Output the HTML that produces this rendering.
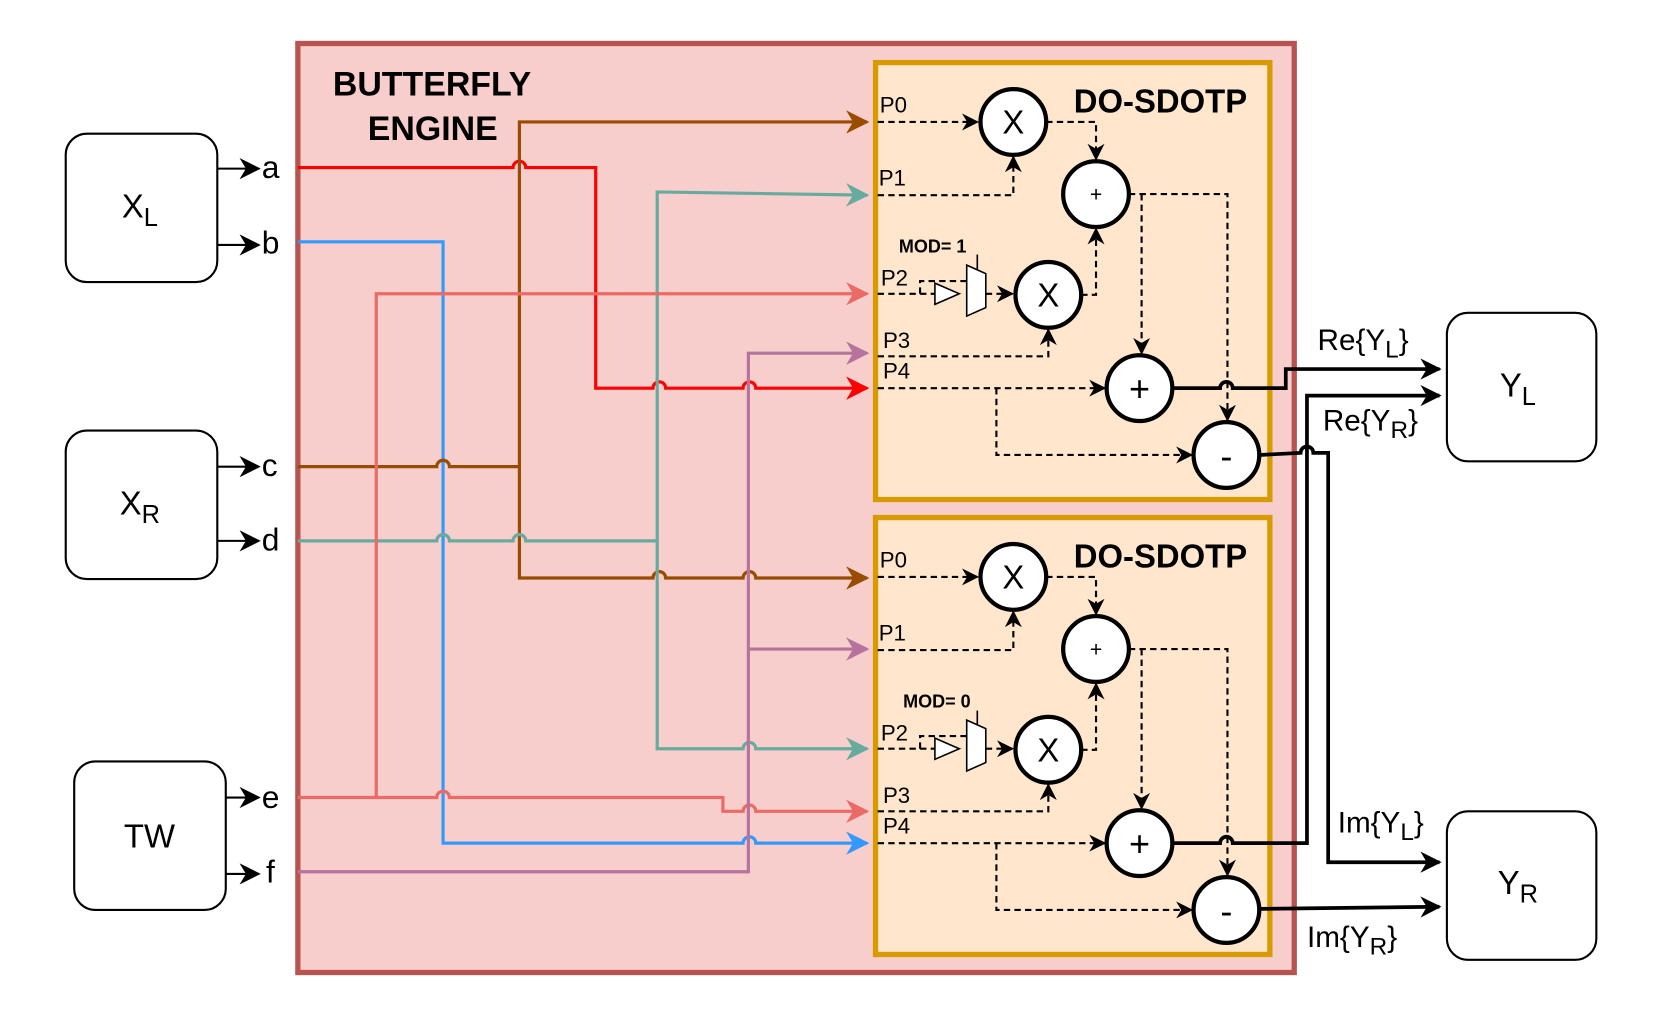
<!DOCTYPE html>
<html><head><meta charset="utf-8"><style>
html,body{margin:0;padding:0;background:#fff;}
svg{display:block;font-family:"Liberation Sans",sans-serif;}
</style></head><body>
<svg width="1661" height="1016" viewBox="0 0 1567 958" preserveAspectRatio="none" xmlns="http://www.w3.org/2000/svg">
<defs>
<marker id="mkb" viewBox="0 0 10 10" refX="9" refY="5" markerWidth="20" markerHeight="20" markerUnits="userSpaceOnUse" orient="auto"><path d="M0,0 L10,5 L0,10 L3,5 Z" fill="#000"/></marker>
<marker id="mkd" viewBox="0 0 10 10" refX="9" refY="5" markerWidth="16" markerHeight="16" markerUnits="userSpaceOnUse" orient="auto"><path d="M0,0 L10,5 L0,10 L3,5 Z" fill="#000"/></marker>
<marker id="mr" viewBox="0 0 10 10" refX="9" refY="5" markerWidth="22" markerHeight="22" markerUnits="userSpaceOnUse" orient="auto"><path d="M0,0 L10,5 L0,10 L3,5 Z" fill="#ff0000"/></marker>
<marker id="mbl" viewBox="0 0 10 10" refX="9" refY="5" markerWidth="22" markerHeight="22" markerUnits="userSpaceOnUse" orient="auto"><path d="M0,0 L10,5 L0,10 L3,5 Z" fill="#3399ff"/></marker>
<marker id="mbr" viewBox="0 0 10 10" refX="9" refY="5" markerWidth="22" markerHeight="22" markerUnits="userSpaceOnUse" orient="auto"><path d="M0,0 L10,5 L0,10 L3,5 Z" fill="#994c00"/></marker>
<marker id="mt" viewBox="0 0 10 10" refX="9" refY="5" markerWidth="22" markerHeight="22" markerUnits="userSpaceOnUse" orient="auto"><path d="M0,0 L10,5 L0,10 L3,5 Z" fill="#67ab9f"/></marker>
<marker id="me" viewBox="0 0 10 10" refX="9" refY="5" markerWidth="22" markerHeight="22" markerUnits="userSpaceOnUse" orient="auto"><path d="M0,0 L10,5 L0,10 L3,5 Z" fill="#ea6b66"/></marker>
<marker id="mp" viewBox="0 0 10 10" refX="9" refY="5" markerWidth="22" markerHeight="22" markerUnits="userSpaceOnUse" orient="auto"><path d="M0,0 L10,5 L0,10 L3,5 Z" fill="#b5739d"/></marker>
<g id="blk">
  <rect x="826" y="59" width="372" height="412" fill="#ffe6cc" stroke="#d79b00" stroke-width="5"/>
  <g fill="none" stroke="#000" stroke-width="2" stroke-dasharray="6,4">
    <path d="M828,115 H922" marker-end="url(#mkd)"/>
    <path d="M987,115 H1034 V150" marker-end="url(#mkd)"/>
    <path d="M828,184 H956 V148" marker-end="url(#mkd)"/>
    <path d="M828,277 H882"/>
    <path d="M868,277 V265 H912"/>
    <path d="M930,277 H955" marker-end="url(#mkd)"/>
    <path d="M1020,278 H1034 V216" marker-end="url(#mkd)"/>
    <path d="M828,336 H989 V311" marker-end="url(#mkd)"/>
    <path d="M1065,183 H1158 V396" marker-end="url(#mkd)"/>
    <path d="M1077,183 V333" marker-end="url(#mkd)"/>
    <path d="M828,366 H1042" marker-end="url(#mkd)"/>
    <path d="M940,366 V429 H1124" marker-end="url(#mkd)"/>
  </g>
  <path d="M882,267 L905,277 L882,287 Z" fill="#fff" stroke="#000" stroke-width="1.5"/>
  <path d="M912,250 L930,258 L930,290 L912,298 Z" fill="#fff" stroke="#000" stroke-width="1.5"/>
  <path d="M922,240 V254" stroke="#000" stroke-width="1.5"/>
  <g fill="#fff" stroke="#000" stroke-width="4">
    <circle cx="956" cy="115" r="31"/><circle cx="1034" cy="183" r="31"/>
    <circle cx="989" cy="278" r="31"/><circle cx="1075" cy="366" r="31"/>
    <circle cx="1157" cy="429" r="31"/>
  </g>
  <g font-size="31" text-anchor="middle">
    <text x="956" y="126">X</text><text x="989" y="289">X</text>
    <text x="1034" y="190" font-size="20">+</text>
    <text x="1075" y="378" font-size="34">+</text>
    <text x="1157" y="442" font-size="34">-</text>
  </g>
  <g font-size="21"><text x="830" y="106">P0</text><text x="829" y="175">P1</text><text x="831" y="269">P2</text><text x="833" y="328">P3</text><text x="833" y="357">P4</text></g>
  <text x="1013" y="106" font-size="31" font-weight="bold">DO-SDOTP</text>
</g>
</defs>

<rect x="281" y="41" width="940" height="876" fill="#f8cecc" stroke="#b85450" stroke-width="5"/>
<text x="314" y="90" font-size="32" font-weight="bold">BUTTERFLY</text>
<text x="347" y="132" font-size="32" font-weight="bold">ENGINE</text>

<use href="#blk"/>
<use href="#blk" transform="translate(0,429)"/>
<rect x="844" y="640" width="95" height="30" fill="#ffe6cc"/>
<text x="852" y="667" font-size="17" font-weight="bold">MOD= 0</text>
<text x="848" y="238" font-size="17" font-weight="bold">MOD= 1</text>

<g fill="#fff" stroke="#000" stroke-width="2">
<rect x="62" y="126" width="143" height="140" rx="20"/>
<rect x="62" y="406" width="143" height="140" rx="20"/>
<rect x="70" y="718" width="143" height="140" rx="20"/>
<rect x="1365" y="295" width="141" height="140" rx="20"/>
<rect x="1365" y="765" width="141" height="140" rx="20"/>
</g>
<g font-size="31" text-anchor="middle">
<text x="132" y="205">X<tspan font-size="24" dy="8">L</tspan></text>
<text x="132" y="485">X<tspan font-size="24" dy="8">R</tspan></text>
<text x="141" y="799">TW</text>
<text x="1432" y="374">Y<tspan font-size="24" dy="8">L</tspan></text>
<text x="1432" y="843">Y<tspan font-size="24" dy="8">R</tspan></text>
</g>
<g stroke="#000" stroke-width="2">
<path d="M205,159 H244" marker-end="url(#mkb)"/><path d="M205,231 H244" marker-end="url(#mkb)"/>
<path d="M205,440 H244" marker-end="url(#mkb)"/><path d="M205,510 H244" marker-end="url(#mkb)"/>
<path d="M213,752 H244" marker-end="url(#mkb)"/><path d="M213,824 H244" marker-end="url(#mkb)"/>
</g>
<g font-size="30"><text x="247" y="168">a</text><text x="247" y="239">b</text><text x="247" y="449">c</text><text x="247" y="519">d</text><text x="247" y="762">e</text><text x="251" y="832">f</text></g>

<g fill="none" stroke-width="3">
<path d="M281,158 H484 A6,6 0 0 1 496,158 H562 V366 H616 A6,6 0 0 1 628,366 H701 A6,6 0 0 1 713,366 H818" stroke="#ff0000" marker-end="url(#mr)"/>
<path d="M281,228 H418 V795 H701 A6,6 0 0 1 713,795 H818" stroke="#3399ff" marker-end="url(#mbl)"/>
<path d="M281,440 H412 A6,6 0 0 1 424,440 H490 V115 H818" stroke="#994c00" marker-end="url(#mbr)"/>
<path d="M490,440 V545 H616 A6,6 0 0 1 628,545 H701 A6,6 0 0 1 713,545 H818" stroke="#994c00" marker-end="url(#mbr)"/>
<path d="M281,510 H412 A6,6 0 0 1 424,510 H484 A6,6 0 0 1 496,510 H620 V181 L818,184" stroke="#67ab9f" marker-end="url(#mt)"/>
<path d="M620,508 V706 H701 A6,6 0 0 1 713,706 H818" stroke="#67ab9f" marker-end="url(#mt)"/>
<path d="M281,752 H412 A6,6 0 0 1 424,752 H682 V765 H701 A6,6 0 0 1 713,765 H818" stroke="#ea6b66" marker-end="url(#me)"/>
<path d="M355,752 V277 H818" stroke="#ea6b66" marker-end="url(#me)"/>
<path d="M281,822 H706 V333 H818" stroke="#b5739d" marker-end="url(#mp)"/>
<path d="M706,612 H818" stroke="#b5739d" marker-end="url(#mp)"/>
</g>

<g fill="none" stroke="#000" stroke-width="3.5">
<path d="M1106,366 H1151 A6,6 0 0 1 1163,366 H1213 V348 H1358" marker-end="url(#mkb)"/>
<path d="M1106,795 H1151 A6,6 0 0 1 1163,795 H1233 V373 H1358" marker-end="url(#mkb)"/>
<path d="M1188,429 L1227,427 A6,6 0 0 1 1239,427 H1253 V813 H1358" marker-end="url(#mkb)"/>
<path d="M1188,857 L1358,855" marker-end="url(#mkb)"/>
</g>
<g font-size="28">
<text x="1243" y="330">Re{Y<tspan font-size="23" dy="7">L</tspan><tspan dy="-7">}</tspan></text>
<text x="1248" y="406">Re{Y<tspan font-size="23" dy="7">R</tspan><tspan dy="-7">}</tspan></text>
<text x="1262" y="785">Im{Y<tspan font-size="23" dy="7">L</tspan><tspan dy="-7">}</tspan></text>
<text x="1233" y="893">Im{Y<tspan font-size="23" dy="7">R</tspan><tspan dy="-7">}</tspan></text>
</g>
</svg>
</body></html>
